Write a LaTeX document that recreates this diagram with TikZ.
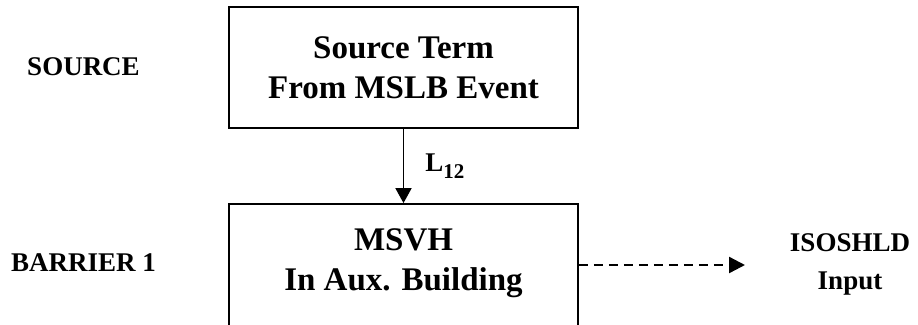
\documentclass[tikz,border=0pt]{standalone}
\usepackage{fontspec}
\setmainfont{Liberation Serif}
\usetikzlibrary{arrows.meta}
\newcommand{\mysub}[1]{\raisebox{-0.28em}{\fontsize{21}{21}\selectfont #1}}
\begin{document}
\begin{tikzpicture}[x=1pt,y=-1pt,
  boxstyle/.style={draw, line width=1.8pt, minimum width=349pt, inner sep=0pt},
  bigtext/.style={font=\bfseries\fontsize{33}{40}\selectfont, align=center, inner sep=0pt},
  sidetext/.style={font=\bfseries\fontsize{27}{38}\selectfont, align=center, inner sep=0pt},
  flow/.style={line width=1.8pt, -{Triangle[length=15pt,width=16pt]}},
  dashflow/.style={line width=2.4pt, dash pattern=on 9pt off 6pt, -{Triangle[length=16pt,width=16pt]}}]
\useasboundingbox (0,0) rectangle (918,324);
\clip (0,0) rectangle (918,324);
\fill[white] (0,0) rectangle (918,324);
\node[boxstyle, minimum height=121pt] (src) at (403.5,67.5) {};
\node[bigtext] (srct) at (403.5,67.5) {Source Term\\From MSLB Event};
\node[boxstyle, minimum height=140pt] (b1) at (403.5,274) {};
\node[bigtext] (b1t) at (403.5,263) {MSVH\\In Aux. Building};
\node[sidetext] (lsrc) at (83.5,67) {SOURCE};
\node[sidetext] (lb1) at (83.5,263) {BARRIER 1};
\node[sidetext] (iso) at (850,264) {ISOSHLD\\Input};
\draw[flow] (src.south) -- (b1.north) node[midway, right=21pt, font=\bfseries\fontsize{27}{30}\selectfont, inner sep=0pt] (l12) {L\mysub{12}};
\coordinate (dend) at (745,265);
\draw[dashflow] (b1.east |- dend) -- (dend);
\end{tikzpicture}
\end{document}
